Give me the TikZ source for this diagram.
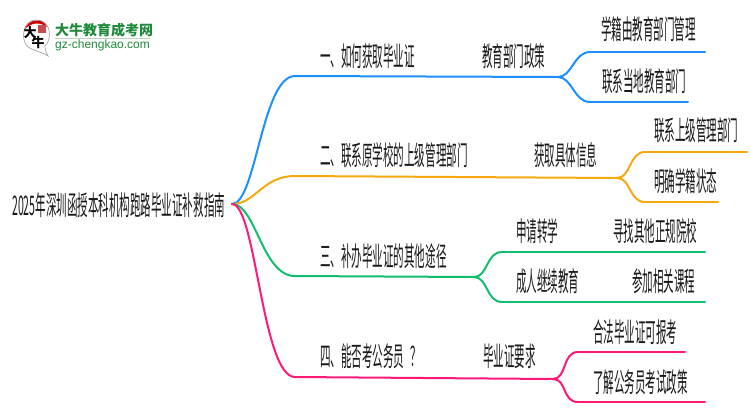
\documentclass[tikz,border=0pt]{standalone}
\usepackage{fontspec}
\newfontfamily\cjk[FakeStretch=0.39]{Noto Sans CJK SC}
\newfontfamily\logocjk{Noto Sans CJK SC}
\setmainfont{Liberation Sans}
\usetikzlibrary{positioning}
\definecolor{bblue}{HTML}{1E8FFF}
\definecolor{borange}{HTML}{F5A90F}
\definecolor{bgreen}{HTML}{10BE6E}
\definecolor{bpink}{HTML}{FF1A78}
\definecolor{logogreen}{HTML}{1F8A3B}
\begin{document}
\begin{tikzpicture}[x=1pt,y=-1pt,line cap=round,
    lbl/.style={font=\cjk\fontsize{27}{28}\selectfont,text=black!90,inner sep=0pt,anchor=west},
    bline/.style={line width=2pt,to path={.. controls +(24,0) and +(-33,0) .. (\tikztotarget)}},
    sline/.style={line width=2pt,to path={.. controls +(14,0) and +(-16,0) .. (\tikztotarget)}},
    hline/.style={line width=2pt}]
  \useasboundingbox (0,0) rectangle (750,410);

  % logo
  \draw[black!35,fill=white,line width=0.7pt] (36,20) .. controls (22,20) and (21,40) .. (27,46)
    .. controls (33,51) and (40,51) .. (48,56) .. controls (46,52) and (45,50) .. (45,46)
    .. controls (52,40) and (52,20) .. (36,20);
  \fill[red!80!black] (25,29) .. controls (28,19) and (43,17) .. (47,27) .. controls (40,22) and (32,22) .. (25,29);
  \fill[red!70!black!70] (38,25) rectangle (46,33);
  \node[font=\logocjk\bfseries\fontsize{13}{13}\selectfont,inner sep=0pt] (logoa) at (30,33) {大};
  \node[font=\logocjk\bfseries\fontsize{13}{13}\selectfont,inner sep=0pt] (logob) at (38,43) {牛};
  \node[font=\logocjk\bfseries\fontsize{14}{14}\selectfont,text=logogreen,inner sep=0pt,anchor=west] (logot) at (55,30) {大牛教育成考网};
  \node[font=\fontsize{12}{12}\selectfont,text=logogreen,inner sep=0pt,anchor=west] (logou) at (55,45) {gz-chengkao.com};
  \coordinate (rulea) at (55,38.5);
  \coordinate (ruleb) at (150,38.5);
  \draw[green!30!black!25,line width=0.6pt] (rulea) -- (ruleb);

  % texts
  \node[lbl] (root) at (12,205) {2025年深圳函授本科机构跑路毕业证补救指南};

  \node[lbl] (one)   at (320,56)  {一、如何获取毕业证};
  \node[lbl] (onea)  at (482,56)  {教育部门政策};
  \node[lbl] (oneb)  at (601,29)  {学籍由教育部门管理};
  \node[lbl] (onec)  at (602,81)  {联系当地教育部门};

  \node[lbl] (two)   at (320,155) {二、联系原学校的上级管理部门};
  \node[lbl] (twoa)  at (534,155) {获取具体信息};
  \node[lbl] (twob)  at (654,130) {联系上级管理部门};
  \node[lbl] (twoc)  at (654,181) {明确学籍状态};

  \node[lbl] (three)  at (320,256) {三、补办毕业证的其他途径};
  \node[lbl] (threea) at (516,231) {申请转学};
  \node[lbl] (threeb) at (613,231) {寻找其他正规院校};
  \node[lbl] (threec) at (516,281) {成人继续教育};
  \node[lbl] (threed) at (632,281) {参加相关课程};

  \node[lbl] (four)  at (320,356) {四、能否考公务员\kern6pt？};
  \node[lbl] (foura) at (483,356) {毕业证要求};
  \node[lbl] (fourb) at (593,332) {合法毕业证可报考};
  \node[lbl] (fourc) at (593,382) {了解公务员考试政策};

  % joints
  \coordinate (start) at (232,204);
  \coordinate (ja) at (295,76);   \coordinate (jb) at (295,176);
  \coordinate (jc) at (295,276);  \coordinate (jd) at (295,377);
  \coordinate (ka) at (558,77);   \coordinate (kb) at (617,178);
  \coordinate (kc) at (474,277);  \coordinate (kd) at (553,379);
  \coordinate (ma) at (590,52);   \coordinate (mb) at (590,102);
  \coordinate (na) at (645,152);  \coordinate (nb) at (645,202);
  \coordinate (oa) at (502,252);  \coordinate (ob) at (502,302);
  \coordinate (pa) at (578,352);  \coordinate (pb) at (578,402);
  \coordinate (ea) at (705,52);   \coordinate (eb) at (688,102);
  \coordinate (ec) at (747,152);  \coordinate (ed) at (718,202);
  \coordinate (ee) at (705,252);  \coordinate (ef) at (705,302);
  \coordinate (eg) at (685,352);  \coordinate (eh) at (705,402);

  \path[draw=bblue] (start) edge[bline] (ja) (ja) edge[hline] (ka)
    (ka) edge[sline] (ma) (ka) edge[sline] (mb)
    (ma) edge[hline] (ea) (mb) edge[hline] (eb);
  \path[draw=borange] (start) edge[bline] (jb) (jb) edge[hline] (kb)
    (kb) edge[sline] (na) (kb) edge[sline] (nb)
    (na) edge[hline] (ec) (nb) edge[hline] (ed);
  \path[draw=bgreen] (start) edge[bline] (jc) (jc) edge[hline] (kc)
    (kc) edge[sline] (oa) (kc) edge[sline] (ob)
    (oa) edge[hline] (ee) (ob) edge[hline] (ef);
  \path[draw=bpink] (start) edge[bline] (jd) (jd) edge[hline] (kd)
    (kd) edge[sline] (pa) (kd) edge[sline] (pb)
    (pa) edge[hline] (eg) (pb) edge[hline] (eh);
\end{tikzpicture}
\end{document}
